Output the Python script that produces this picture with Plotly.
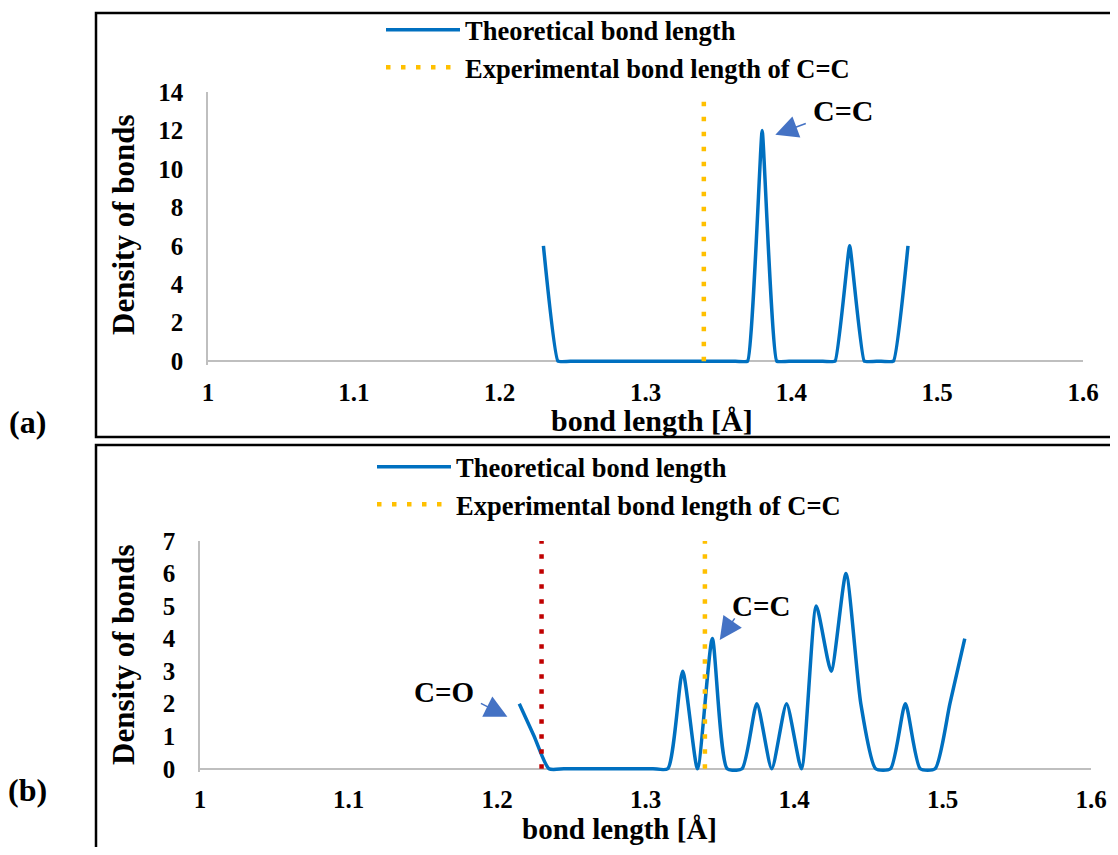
import plotly.graph_objects as go

# ---------------- data ----------------
# panel (a)
a_x = [1.23, 1.24, 1.25, 1.26, 1.27, 1.28, 1.29, 1.30, 1.31, 1.32, 1.33, 1.34, 1.35,
       1.36, 1.37, 1.38, 1.39, 1.40, 1.41, 1.42, 1.43, 1.44, 1.45, 1.46, 1.47, 1.48]
a_y = [6, 0, 0, 0, 0, 0, 0, 0, 0, 0, 0, 0, 0,
       0, 0, 12, 0, 0, 0, 0, 0, 6, 0, 0, 0, 6]
a_exp_cc = 1.34
a_ymax = 14

# panel (b)
b_x = [1.215, 1.225, 1.235, 1.245, 1.255, 1.265, 1.275, 1.285, 1.295, 1.305, 1.315,
       1.325, 1.335, 1.345, 1.355, 1.365, 1.375, 1.385, 1.395, 1.405, 1.415, 1.425,
       1.435, 1.445, 1.455, 1.465, 1.475, 1.485, 1.495, 1.505, 1.515]
b_y = [2, 1, 0, 0, 0, 0, 0, 0, 0, 0, 0,
       3, 0, 4, 0, 0, 2, 0, 2, 0, 5, 3,
       6, 2, 0, 0, 2, 0, 0, 2, 4]
b_exp_co = 1.23
b_exp_cc = 1.34
b_ymax = 7

x_ticks = [1, 1.1, 1.2, 1.3, 1.4, 1.5, 1.6]
name_theo = "Theoretical bond length"
name_exp = "Experimental bond length of C=C"

# ---------------- styling ----------------
OFF = 8                      # default page margin of the html body
W, H = 1118 - 2 * OFF, 855 - 2 * OFF
FONT = "Liberation Serif, Times New Roman, serif"
BLUE = "#0070C0"
GOLD = "#FFC000"
RED = "#C00000"
AXIS = "#BFBFBF"
ARROW = "#4472C4"


def px(x):
    """page pixel x -> paper fraction"""
    return (x - OFF) / W


def py(y):
    """page pixel y -> paper fraction"""
    return 1 - (y - OFF) / H


def bold(size):
    return dict(family=FONT, size=size, color="black", weight="bold")


fig = go.Figure()

DOT = dict(width=4.5, dash="4.5px,10.5px")

# panel (a) traces
fig.add_trace(go.Scatter(x=a_x, y=a_y, mode="lines", name=name_theo,
                         line=dict(color=BLUE, width=3.5, shape="spline", smoothing=0.3),
                         xaxis="x", yaxis="y", legend="legend"))
fig.add_trace(go.Scatter(x=[a_exp_cc, a_exp_cc], y=[0, a_ymax], mode="lines", name=name_exp,
                         line=dict(color=GOLD, **DOT),
                         xaxis="x", yaxis="y", legend="legend"))

# panel (b) traces
fig.add_trace(go.Scatter(x=b_x, y=b_y, mode="lines", name=name_theo,
                         line=dict(color=BLUE, width=3.5, shape="spline", smoothing=0.6),
                         xaxis="x2", yaxis="y2", legend="legend2"))
fig.add_trace(go.Scatter(x=[b_exp_cc, b_exp_cc], y=[0, b_ymax], mode="lines", name=name_exp,
                         line=dict(color=GOLD, **DOT),
                         xaxis="x2", yaxis="y2", legend="legend2"))
fig.add_trace(go.Scatter(x=[b_exp_co, b_exp_co], y=[0, b_ymax], mode="lines",
                         name="Experimental bond length of C=O", showlegend=False,
                         line=dict(color=RED, **DOT),
                         xaxis="x2", yaxis="y2"))

xcommon = dict(tickvals=x_ticks, showgrid=False, zeroline=False, showline=False,
               ticks="outside", ticklen=5, tickcolor="rgba(0,0,0,0)",
               tickfont=bold(25), fixedrange=True, automargin=False)
ycommon = dict(showgrid=False, zeroline=True, zerolinecolor=AXIS, zerolinewidth=1.5,
               showline=True, linecolor=AXIS, linewidth=1.5,
               ticks="outside", ticklen=18, tickcolor="rgba(0,0,0,0)",
               tickfont=bold(25), fixedrange=True, automargin=False)

fig.update_layout(
    width=W, height=H,
    autosize=False,
    margin=dict(l=0, r=0, t=0, b=0, pad=0, autoexpand=False),
    paper_bgcolor="white", plot_bgcolor="white",
    font=dict(family=FONT, color="black"),
    xaxis=dict(domain=[px(208), px(1083)], range=[1, 1.6], anchor="y", **xcommon),
    yaxis=dict(domain=[py(365), py(92)], range=[-0.2, a_ymax], tick0=0, dtick=2,
               anchor="x", **ycommon),
    xaxis2=dict(domain=[px(200), px(1091)], range=[1, 1.6], anchor="y2", **xcommon),
    yaxis2=dict(domain=[py(772), py(541)], range=[-0.1, b_ymax], tick0=0, dtick=1,
                anchor="x2", **ycommon),
    legend=dict(x=px(381), y=py(6), xanchor="left", yanchor="top",
                bgcolor="rgba(0,0,0,0)", itemwidth=74, traceorder="normal",
                font=bold(26.5)),
    legend2=dict(x=px(372), y=py(443), xanchor="left", yanchor="top",
                 bgcolor="rgba(0,0,0,0)", itemwidth=74, traceorder="normal",
                 font=bold(26.5)),
    showlegend=True,
)

# panel borders
fig.add_shape(type="rect", xref="paper", yref="paper",
              x0=px(96), x1=1.02, y0=py(437), y1=py(13),
              line=dict(color="black", width=2.5), fillcolor="rgba(0,0,0,0)", layer="below")
fig.add_shape(type="rect", xref="paper", yref="paper",
              x0=px(96), x1=1.02, y0=-0.05, y1=py(445),
              line=dict(color="black", width=2.5), fillcolor="rgba(0,0,0,0)", layer="below")

annots = [
    # axis titles
    dict(text="Density of bonds", x=px(123), y=py(225), textangle=-90, font=bold(31)),
    dict(text="bond length [Å]", x=px(652), y=py(420), font=bold(30)),
    dict(text="Density of bonds", x=px(123), y=py(655), textangle=-90, font=bold(31)),
    dict(text="bond length [Å]", x=px(619), y=py(829), font=bold(29)),
    # panel labels
    dict(text="(a)", x=px(27), y=py(422), font=bold(32)),
    dict(text="(b)", x=px(27), y=py(790), font=bold(32)),
    # peak labels
    dict(text="C=C", x=px(843), y=py(110), font=bold(30)),
    dict(text="C=C", x=px(761), y=py(606), font=bold(29)),
    dict(text="C=O", x=px(444), y=py(692), font=bold(29)),
]
for a in annots:
    fig.add_annotation(xref="paper", yref="paper", showarrow=False,
                       xanchor="center", yanchor="middle", **a)

# arrows
arrows = [
    dict(x=1.389, y=11.77, ax=32, ay=-12, xref="x", yref="y"),
    dict(x=1.350, y=3.96, ax=16, ay=-23, xref="x2", yref="y2"),
    dict(x=1.207, y=1.6, ax=-28, ay=-14, xref="x2", yref="y2"),
]
for a in arrows:
    fig.add_annotation(text="", showarrow=True, arrowhead=2, arrowsize=3.0,
                       arrowwidth=1.5, arrowcolor=ARROW, standoff=0, **a)

fig.write_html("out.html")
